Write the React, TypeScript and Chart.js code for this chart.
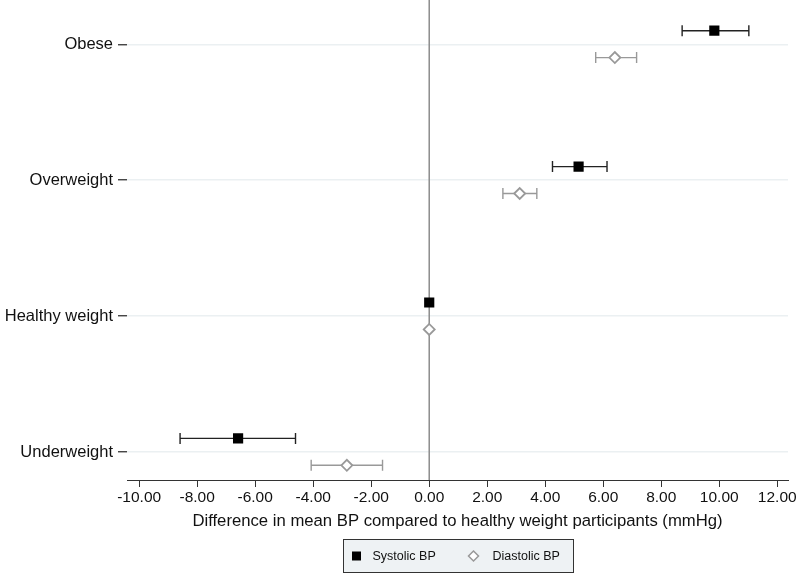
import React, { useEffect, useRef } from 'react';
import { Chart, registerables } from 'chart.js';

Chart.register(...registerables);

const categories = ['Obese', 'Overweight', 'Healthy weight', 'Underweight'];
const seriesLabels = ['Systolic BP', 'Diastolic BP'];
const systolicMean = [9.83, 5.15, 0, -6.59];
const systolicLow = [8.72, 4.25, 0, -8.59];
const systolicHigh = [11.02, 6.13, 0, -4.61];
const diastolicMean = [6.4, 3.12, 0, -2.84];
const diastolicLow = [5.74, 2.54, 0, -4.07];
const diastolicHigh = [7.15, 3.71, 0, -1.61];
const xTickValues = [-10, -8, -6, -4, -2, 0, 2, 4, 6, 8, 10, 12];
const xTitle = 'Difference in mean BP compared to healthy weight participants (mmHg)';

const FONT = "Helvetica, Arial, 'Liberation Sans', sans-serif";

const catY = (i: number) => categories.length - i;

const errorBarPlugin = {
  id: 'errorBars',
  beforeDatasetsDraw(chart: any) {
    const { ctx, chartArea } = chart;
    const x = chart.scales.x;
    const y = chart.scales.y;
    ctx.save();
    const x0 = x.getPixelForValue(0);
    ctx.strokeStyle = '#8c8c8c';
    ctx.lineWidth = 1.5;
    ctx.beginPath();
    ctx.moveTo(x0, 0);
    ctx.lineTo(x0, chartArea.bottom);
    ctx.stroke();
    chart.data.datasets.forEach((ds: any) => {
      ctx.strokeStyle = ds.errorColor;
      ctx.lineWidth = 1.4;
      ds.data.forEach((p: any) => {
        if (p.lo === p.hi) return;
        const py = y.getPixelForValue(p.y);
        const a = x.getPixelForValue(p.lo);
        const b = x.getPixelForValue(p.hi);
        ctx.beginPath();
        ctx.moveTo(a, py);
        ctx.lineTo(b, py);
        ctx.moveTo(a, py - 5.5);
        ctx.lineTo(a, py + 5.5);
        ctx.moveTo(b, py - 5.5);
        ctx.lineTo(b, py + 5.5);
        ctx.stroke();
      });
    });
    ctx.restore();
  },
};

const legendBoxPlugin = {
  id: 'legendBox',
  afterDraw(chart: any) {
    const { ctx, chartArea } = chart;
    const w = 230;
    const h = 33;
    const left = Math.round((chartArea.left + chartArea.right) / 2 - w / 2) + 0.5;
    const top = 539.5;
    const cy = top + h / 2;
    ctx.save();
    ctx.fillStyle = '#eef2f4';
    ctx.fillRect(left, top, w, h);
    ctx.strokeStyle = '#333';
    ctx.lineWidth = 1;
    ctx.strokeRect(left, top, w, h);
    ctx.fillStyle = '#000';
    ctx.fillRect(left + 8.5, cy - 4.5, 9, 9);
    const dx = left + 130;
    ctx.beginPath();
    ctx.moveTo(dx, cy - 5);
    ctx.lineTo(dx + 5, cy);
    ctx.lineTo(dx, cy + 5);
    ctx.lineTo(dx - 5, cy);
    ctx.closePath();
    ctx.fillStyle = '#fff';
    ctx.fill();
    ctx.strokeStyle = '#999';
    ctx.lineWidth = 1.5;
    ctx.stroke();
    ctx.fillStyle = '#111';
    ctx.font = "12.5px 'Liberation Sans Narrow', 'Arial Narrow', Arial, sans-serif";
    ctx.textBaseline = 'middle';
    ctx.textAlign = 'left';
    ctx.fillText(seriesLabels[0], left + 29, cy + 1);
    ctx.fillText(seriesLabels[1], left + 149, cy + 1);
    ctx.restore();
  },
};

export default function App() {
  const ref = useRef<HTMLCanvasElement>(null);
  useEffect(() => {
    document.body.style.margin = '0';
    const canvas = ref.current;
    if (!canvas) return;
    const chart = new Chart(canvas, {
      type: 'scatter',
      data: {
        datasets: [
          {
            label: seriesLabels[0],
            data: categories.map((_, i) => ({
              x: systolicMean[i],
              y: catY(i) + 0.1,
              lo: systolicLow[i],
              hi: systolicHigh[i],
            })),
            pointStyle: 'rect',
            pointRadius: 7.2,
            pointHoverRadius: 7.2,
            backgroundColor: '#000',
            borderColor: '#000',
            borderWidth: 0,
            errorColor: '#222',
          } as any,
          {
            label: seriesLabels[1],
            data: categories.map((_, i) => ({
              x: diastolicMean[i],
              y: catY(i) - 0.098,
              lo: diastolicLow[i],
              hi: diastolicHigh[i],
            })),
            pointStyle: 'rectRot',
            pointRadius: 5.5,
            pointHoverRadius: 5.5,
            backgroundColor: '#fff',
            borderColor: '#999',
            borderWidth: 1.8,
            errorColor: '#999',
          } as any,
        ],
      },
      options: {
        animation: false,
        responsive: false,
        events: [],
        layout: { padding: { left: 0, right: 12, top: 0, bottom: 0 } },
        plugins: {
          legend: { display: false },
          tooltip: { enabled: false },
        },
        scales: {
          x: {
            type: 'linear',
            min: -10.42,
            max: 12.37,
            afterBuildTicks: (s: any) => {
              s.ticks = xTickValues.map((v) => ({ value: v }));
            },
            afterFit: (s: any) => {
              s.height = 98;
            },
            border: { display: true, color: '#333', width: 1 },
            grid: {
              drawOnChartArea: false,
              drawTicks: true,
              tickLength: 7,
              tickColor: '#333',
              tickWidth: 1,
            },
            ticks: {
              padding: 1,
              color: '#111',
              font: { family: FONT, size: 15.5 },
              maxRotation: 0,
              autoSkip: false,
              callback: (v: any) => Number(v).toFixed(2),
            },
            title: {
              display: true,
              text: xTitle,
              color: '#111',
              font: { family: FONT, size: 16.7 },
              padding: { top: 4, bottom: 47 },
            },
          },
          y: {
            type: 'linear',
            min: 0.794,
            max: 4.272,
            afterBuildTicks: (s: any) => {
              s.ticks = categories.map((_, i) => ({ value: catY(i) }));
            },
            afterFit: (s: any) => {
              s.width = 127;
              s.paddingTop = 0;
              s.paddingBottom = 0;
            },
            border: { display: false },
            grid: {
              color: '#ebf0f2',
              lineWidth: 1.5,
              drawTicks: true,
              tickLength: 9,
              tickColor: '#333',
              tickWidth: 1.3,
            },
            ticks: {
              padding: 5,
              color: '#111',
              font: { family: FONT, size: 16.5 },
              autoSkip: false,
              callback: (v: any) => {
                const i = categories.length - Math.round(Number(v));
                return categories[i] ?? '';
              },
            },
          },
        },
      },
      plugins: [errorBarPlugin, legendBoxPlugin],
    });
    return () => chart.destroy();
  }, []);
  return (
    <div style={{ width: 800, height: 578, background: '#fff' }}>
      <canvas ref={ref} width={800} height={578} style={{ display: 'block' }} />
    </div>
  );
}
